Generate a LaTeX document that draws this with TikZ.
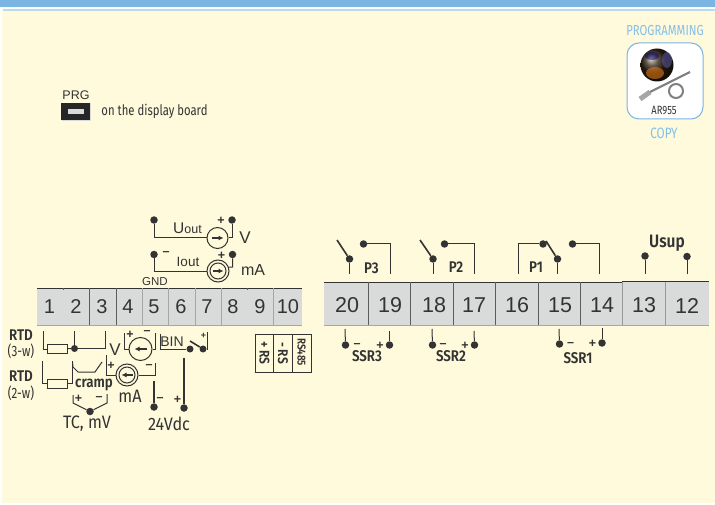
\documentclass[tikz,border=0pt]{standalone}
\usepackage{fontspec}
\setmainfont{Liberation Sans}
\newfontfamily\cond[FakeStretch=0.78]{Fira Sans}
\newfontfamily\condw[FakeStretch=0.9]{Fira Sans}
\newfontfamily\condb[FakeStretch=0.86]{Fira Sans SemiBold}
\usetikzlibrary{calc,arrows.meta}
\definecolor{cream}{HTML}{FFFADC}
\definecolor{bandblue}{HTML}{7AB5E4}
\definecolor{stripe}{HTML}{B7DDED}
\definecolor{txtblue}{HTML}{84BFE8}
\definecolor{gray1}{HTML}{D9DBDB}
\definecolor{ink}{HTML}{333333}
\tikzset{
 wire/.style={draw=ink,line width=1pt},
 dot/.style={circle,fill=ink,inner sep=0pt,minimum size=7.5pt},
 src/.style={circle,draw=ink,line width=1pt,fill=cream,inner sep=0pt,minimum size=21pt},
 flow/.style={-{Latex[length=5pt,width=5pt]},ink,line width=1.1pt},
 num/.style={font=\fontsize{21.5}{21.5}\selectfont,text=ink,inner sep=0pt},
 nums/.style={font=\fontsize{20}{20}\selectfont,text=ink,inner sep=0pt},
 lab/.style={font=\fontsize{16}{16}\selectfont,text=ink,inner sep=0pt},
 sml/.style={font=\fontsize{12.5}{12.5}\selectfont,text=ink,inner sep=0pt},
 bold/.style={font=\condb\fontsize{15.5}{15.5}\selectfont,text=ink,inner sep=0pt},
 thin/.style={font=\cond\fontsize{15}{15}\selectfont,text=ink,inner sep=0pt},
 wide/.style={font=\condw\fontsize{18}{18}\selectfont,text=ink,inner sep=0pt},
 sign/.style={font=\bfseries\fontsize{12.5}{12.5}\selectfont,text=ink,inner sep=0pt},
 res/.style={draw=ink,line width=1pt,fill=cream,minimum width=20pt,minimum height=9pt,inner sep=0pt},
 blade/.style={draw=ink,line width=1.6pt},
 ann/.style={font=\cond\fontsize{14.5}{14.5}\selectfont,text=txtblue,inner sep=0pt},
}
\begin{document}
\begin{tikzpicture}[x=1pt,y=-1pt]
\useasboundingbox (0,0) rectangle (715,505);
\fill[white] (0,0) rectangle (715,505);
\fill[cream] (2,9) rectangle (715,503);
\fill[bandblue] (0,0) rectangle (715,7);
\fill[stripe] (3,9) rectangle (715,11);
% PRG
\fill[gray1] (61.5,103.5) rectangle (91,121);
\fill[black!85] (61,103) rectangle (90,120);
\fill[gray1] (68,109) rectangle (84,114);
\node[sml] (prg) at (76,95) {PRG};
\node[font=\cond\fontsize{14.5}{14.5}\selectfont,text=ink,inner sep=0pt] (board) at (154.5,111) {on the display board};
% programming
\node[ann] (pgm) at (665,31) {PROGRAMMING};
\node[ann,font=\cond\fontsize{15}{15}\selectfont] (copy) at (664,133) {COPY};
\draw[draw=bandblue,line width=1pt,fill=white,rounded corners=12pt] (627,43) rectangle (703,119);
\shade[ball color=black!75!brown] (657,65) circle (16.5);
\fill[orange!70!brown,opacity=.55] (655,73) ellipse (9 and 6);
\fill[blue!30!gray,opacity=.55] (667,60) ellipse (5 and 8);
\fill[blue!40!black,opacity=.5] (652,56) ellipse (7 and 4);
\draw[gray,line width=2.2pt] (646,94) -- (690,72);
\draw[gray!70,line width=5pt] (640,99) -- (650,92);
\draw[gray,line width=2pt] (676,91) circle (7);
\node[font=\cond\fontsize{12}{12}\selectfont,text=ink,inner sep=0pt] (ar) at (664,110) {AR955};
% left strip
\fill[gray1] (37,288) rectangle (302,325);
\draw[ink,line width=.8pt] (37,288) -- (302,288);
\draw[gray!70,line width=.5pt] (37,325) -- (302,325);
\foreach \x in {89,116} \draw[ink!80,line width=.7pt] (\x,288) -- (\x,325);
\foreach \x in {142,168,195,221,273} \draw[gray!70,line width=.7pt] (\x,288) -- (\x,325);
\foreach \x in {63,247} \draw[ink!80,line width=.6pt] (\x,288) -- (\x,290);
\foreach \n/\x in {1/49.5,2/76,3/102,4/128,5/154,6/181,7/207,8/233,9/260,10/288}
  \node[nums] (L\n) at (\x,306.5) {\n};
% right strip
\fill[gray1] (324,282) rectangle (709,325);
\draw[ink,line width=.8pt] (324,282) -- (622,282);
\draw[ink,line width=.8pt] (622,281.5) -- (709,281.5);
\draw[gray!70,line width=.6pt] (324,325) -- (709,325);
\foreach \x in {368,410,453,495,538,580} \draw[ink!80,line width=.9pt] (\x,282) -- (\x,325);
\foreach \x in {622,665} \draw[gray!80,line width=.7pt] (\x,282) -- (\x,325);
\foreach \n/\x in {20/347,19/390,18/434,17/474,16/517,15/560,14/602,13/644,12/687}
  \node[num] (R\n) at (\x,305.5) {\n};
% Uout
\node[dot] (u1) at (154,220) {};
\node[dot] (u2) at (232,220) {};
\node[src] (us) at (217.5,238) {};
\draw[wire] (u1) |- (us.west);
\draw[wire] (u2) |- (us.east);
\draw[flow] ($(us)+(-6,0)$) -- ($(us)+(6,0)$);
\node[font=\fontsize{15.5}{16}\selectfont,text=ink,inner sep=0pt] (ut) at (187.5,228) {U\fontsize{12.5}{13}\selectfont out};
\node[lab,font=\fontsize{17}{17}\selectfont] (uv) at (245,238) {V};
\node[sign] (up) at (221,220.5) {+};
% Iout
\node[dot] (i1) at (154,254.5) {};
\node[dot] (i2) at (232.5,254.5) {};
\node[src,minimum size=22pt] (is) at (218,271) {};
\node[src,minimum size=16pt] (is2) at (218,271) {};
\draw[wire] (i1) |- (is.west);
\draw[wire] (i2) -- (232.5,267) -- (is.20);
\draw[flow] ($(is)+(-5.5,0)$) -- ($(is)+(5.5,0)$);
\node[font=\fontsize{13.5}{14}\selectfont,text=ink,inner sep=0pt] (it) at (188,262) {Iout};
\node[lab] (ima) at (253,270) {mA};
\node[sign] (im) at (166,254) {--};
\node[sign] (ip) at (221.5,255.5) {+};
\node[font=\fontsize{11.5}{12}\selectfont,text=ink,inner sep=0pt] (gnd) at (155,282) {GND};
% RTD labels
\node[bold] (r3a) at (21,335.5) {RTD};
\node[thin] (r3b) at (21,351) {(3-w)};
\node[bold] (r2a) at (21,376.5) {RTD};
\node[thin] (r2b) at (21,393.5) {(2-w)};
% RTD 3w
\coordinate (a1) at (43,331);
\node[res] (b1) at (57,349) {};
\node[dot,minimum size=7pt] (d1) at (74.5,348.5) {};
\coordinate (a2) at (74.5,331);
\coordinate (a3) at (105,331);
\draw[wire] (a1) |- (b1.west);
\draw[wire] (b1) -- (d1);
\draw[wire] (a2) -- (d1);
\draw[wire] (d1) -| (a3);
\node[lab,font=\fontsize{17}{17}\selectfont] (vv) at (115,349.5) {V};
% RTD 2w
\coordinate (c1) at (42,361);
\node[res] (b2) at (57,383.5) {};
\coordinate (c2) at (72.5,361);
\draw[wire] (c1) |- (b2.west);
\draw[wire] (b2.east) -| (c2);
% cramp
\coordinate (e1) at (72.5,362);
\coordinate (e2) at (102,362);
\draw[wire] (e1) -- (73,367) -- (78,372) -- (95,372) -- (e2);
\node[bold] (cr) at (94,385) {cramp};
% TC
\coordinate (f1) at (73,395);
\coordinate (f2) at (107,394);
\node[dot] (f0) at (90,411.5) {};
\draw[wire] (f1) -- (73,403) -- (f0) -- (107,403) -- (f2);
\node[sign] (fp) at (78.5,399) {+};
\node[sign] (fm) at (99,398.5) {--};
\node[wide] (tc) at (87,424) {TC, mV};
% mA in
\node[src,minimum size=22pt] (ms) at (127,375) {};
\node[src,minimum size=16pt] (ms2) at (127,375) {};
\coordinate (g1) at (106,355);
\coordinate (g2) at (155,363);
\draw[wire] (g1) |- (ms.west);
\draw[wire] (ms.east) -| (g2);
\draw[flow] ($(ms)+(5.5,0)$) -- ($(ms)+(-5.5,0)$);
\node[sign] (mp) at (111,366) {+};
\node[sign] (mm) at (149,366.5) {--};
\node[wide] (mal) at (130,396) {mA};
% V in
\node[src,minimum size=23pt] (vs) at (140.5,349) {};
\coordinate (h1) at (124,333);
\coordinate (h2) at (155,333);
\draw[wire] (h1) |- (vs.west);
\draw[wire] (h2) |- (vs.east);
\draw[flow] ($(vs)+(6,0)$) -- ($(vs)+(-6,0)$);
\node[sign] (vp) at (130,335) {+};
\node[sign] (vm) at (147,333) {--};
% BIN
\coordinate (k1) at (160,334);
\node[dot,minimum size=7pt] (k2) at (190,349) {};
\node[dot,minimum size=7pt] (k3) at (203,349) {};
\coordinate (k4) at (207.5,332);
\draw[wire] (k1) |- (k2);
\draw[wire] (k3) -| (k4);
\draw[blade] (190,341) -- (k3);
\node[font=\fontsize{14}{14}\selectfont,text=ink,inner sep=0pt] (bin) at (172,342) {BIN};
\node[sign,font=\bfseries\fontsize{9}{9}\selectfont] (kp) at (203.5,336) {+};
% 24V
\coordinate (m1) at (154,381);
\node[dot] (m2) at (154,407) {};
\coordinate (m3) at (184,358);
\node[dot] (m4) at (184,408) {};
\draw[wire,line width=1.2pt] (m1) -- (m2);
\draw[wire,line width=1.2pt] (m3) -- (m4);
\node[sign] (mm2) at (160,399.5) {--};
\node[sign] (mp2) at (177.5,400) {+};
\node[wide] (v24) at (169,424) {24Vdc};
% RS485
\draw[ink,line width=1pt] (255,334.5) rectangle (311,372);
\draw[ink,line width=1pt] (273.5,334.5) -- (273.5,372);
\draw[ink,line width=1pt] (292,334.5) -- (292,372);
\node[bold,rotate=-90,font=\condb\fontsize{14}{14}\selectfont] (rs1) at (264.5,353) {+ RS};
\node[bold,rotate=-90,font=\condb\fontsize{14}{14}\selectfont] (rs2) at (283,353) {- RS};
\node[bold,rotate=-90,font=\condb\fontsize{11.5}{12}\selectfont] (rs3) at (301.5,352) {RS485};
% P3
\node[dot] (p3a) at (349.5,259) {};
\node[dot] (p3b) at (363.5,244) {};
\coordinate (p3c) at (349.5,274);
\coordinate (p3d) at (390,274);
\draw[blade] (337,240) -- (p3a);
\draw[wire] (p3a) -- (p3c);
\draw[wire] (p3b) -| (p3d);
\node[bold] (p3t) at (371.5,268) {P3};
% P2
\node[dot] (p2a) at (433,259) {};
\node[dot] (p2b) at (444.5,244) {};
\coordinate (p2c) at (433,274);
\coordinate (p2d) at (474,274);
\draw[blade] (420,240) -- (p2a);
\draw[wire] (p2a) -- (p2c);
\draw[wire] (p2b) -| (p2d);
\node[bold] (p2t) at (456,267.5) {P2};
% P1
\node[dot] (p1a) at (557.5,259) {};
\node[dot] (p1b) at (543,244) {};
\node[dot] (p1e) at (572.5,244) {};
\coordinate (p1c) at (557.5,274);
\coordinate (p1d) at (518,274);
\coordinate (p1f) at (599,274);
\draw[blade] (546,241) -- (p1a);
\draw[wire] (p1a) -- (p1c);
\draw[wire] (p1b) -| (p1d);
\draw[wire] (p1e) -| (p1f);
\node[bold] (p1t) at (536,267.5) {P1};
% Usup
\node[font=\condb\fontsize{18}{18}\selectfont,text=ink,inner sep=0pt] (usup) at (667,243) {Usup};
\node[dot] (s1) at (645,256) {};
\node[dot] (s2) at (687,256.5) {};
\coordinate (s1b) at (645,274);
\coordinate (s2b) at (687,274);
\draw[wire] (s1) -- (s1b);
\draw[wire] (s2) -- (s2b);
% SSR3
\coordinate (q1) at (345,329);
\node[dot] (q2) at (345.5,345) {};
\coordinate (q3) at (389.5,331);
\node[dot] (q4) at (389.5,345) {};
\draw[wire] (q1) -- (q2);
\draw[wire] (q3) -- (q4);
\node[sign] (q5) at (357,346) {--};
\node[sign] (q6) at (380,345.5) {+};
\node[bold] (q7) at (367,356.5) {SSR3};
% SSR2
\coordinate (w1) at (432,329);
\node[dot] (w2) at (432.5,345) {};
\coordinate (w3) at (474,331);
\node[dot] (w4) at (474.5,345) {};
\draw[wire] (w1) -- (w2);
\draw[wire] (w3) -- (w4);
\node[sign] (w5) at (443,346) {--};
\node[sign] (w6) at (465,345.5) {+};
\node[bold] (w7) at (451,356.5) {SSR2};
% SSR1
\coordinate (z1) at (559,329);
\node[dot] (z2) at (559.5,344) {};
\coordinate (z3) at (602,328);
\node[dot] (z4) at (602,343) {};
\draw[wire] (z1) -- (z2);
\draw[wire] (z3) -- (z4);
\node[sign] (z5) at (570.5,344.5) {--};
\node[sign] (z6) at (592.5,343.5) {+};
\node[bold] (z7) at (578,358) {SSR1};
\end{tikzpicture}
\end{document}
